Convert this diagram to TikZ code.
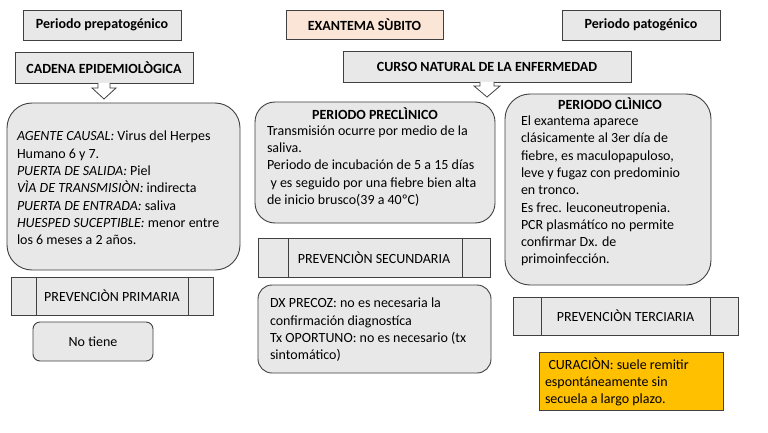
\documentclass[tikz,border=0pt]{standalone}
\usepackage{fontspec}
\setmainfont{Carlito}
\usetikzlibrary{calc}
\definecolor{boxgray}{HTML}{E8E8E8}
\definecolor{edge}{HTML}{404040}
\definecolor{peach}{HTML}{FBE5D6}
\definecolor{gold}{HTML}{FFC000}
\begin{document}
\begin{tikzpicture}[x=1pt,y=-1pt,
  every node/.style={inner sep=0pt,outer sep=0pt},
  txt/.style={font=\fontsize{14}{17.3}\selectfont, align=left, text=black},
  hdr/.style={draw=edge, fill=boxgray, line width=0.9pt, font=\fontsize{14}{17}\selectfont\bfseries},
  rbox/.style={draw=edge, fill=boxgray, line width=0.9pt, rounded corners=#1},
  prev/.style={draw=edge, fill=boxgray, line width=0.9pt, font=\fontsize{14}{17}\selectfont},
  barrow/.style={draw=edge, fill=white, line width=0.8pt, line join=miter}
]
\useasboundingbox (0,0) rectangle (768,433);
\fill[white] (0,0) rectangle (768,433);

% top headers
\node[hdr, minimum width=158pt, minimum height=30pt] (prepat) at (102,25) {Periodo prepatogénico};
\node[hdr, fill=peach, minimum width=157pt, minimum height=29pt] (exant) at (364.5,24.5) {EXANTEMA SÙBITO};
\node[hdr, minimum width=158pt, minimum height=30pt] (pat) at (641,25) {Periodo patogénico};
\node[hdr, minimum width=178pt, minimum height=31pt] (cadena) at (104,67.5) {CADENA EPIDEMIOLÒGICA};
\node[hdr, minimum width=288pt, minimum height=31pt] (curso) at (487,66.5) {CURSO NATURAL DE LA ENFERMEDAD};

% block arrows
\draw[barrow] ($(cadena.south)+(-6,0)$) -- ++(0,5) -- ++(-6,0) -- ($(cadena.south)+(0,16)$) -- ($(cadena.south)+(12,5)$) -- ++(-6,0) -- ($(cadena.south)+(6,0)$);
\draw[barrow] ($(curso.south)+(-7,0)$) -- ++(0,4) -- ++(-6,0) -- ($(curso.south)+(0,15)$) -- ($(curso.south)+(13,4)$) -- ++(-6,0) -- ($(curso.south)+(7,0)$);

% left column
\node[rbox=25pt, minimum width=233pt, minimum height=167pt] (cadbox) at (123.5,186.5) {};
\node[txt, anchor=west] (cadtxt) at (17,188) {\textit{AGENTE CAUSAL:} Virus del Herpes\\
Humano 6 y 7.\\
\textit{PUERTA DE SALIDA:} Piel\\
\textit{VÌA DE TRANSMISIÒN:} indirecta\\
\textit{PUERTA DE ENTRADA:} saliva\\
\textit{HUESPED SUCEPTIBLE:} menor entre\\
los 6 meses a 2 años.};

\node[prev, minimum width=202pt, minimum height=38pt] (prim) at (112,296) {PREVENCIÒN PRIMARIA};
\draw[edge, line width=0.9pt] ($(prim.north west)+(25,0)$) -- ($(prim.south west)+(25,0)$);
\draw[edge, line width=0.9pt] ($(prim.north east)+(-25,0)$) -- ($(prim.south east)+(-25,0)$);
\node[rbox=7pt, txt, minimum width=120pt, minimum height=39pt] (notiene) at (93,341.5) {No tiene};

% middle column
\node[rbox=20pt, minimum width=240pt, minimum height=121pt] (prebox) at (375,162.5) {};
\node[txt, font=\fontsize{14}{17}\selectfont\bfseries] (pretit) at (375,114) {PERIODO PRECLÌNICO};
\node[txt, anchor=west] (pretxt) at (267,166) {Transmisión ocurre por medio de la\\
saliva.\\
Periodo de incubación de 5 a 15 días\\
\hspace{0.25em}y es seguido por una fiebre bien alta\\
de inicio brusco(39 a 40ºC)};

\node[prev, minimum width=232pt, minimum height=39pt] (sec) at (374,257.5) {PREVENCIÒN SECUNDARIA};
\draw[edge, line width=0.9pt] ($(sec.north west)+(30,0)$) -- ($(sec.south west)+(30,0)$);
\draw[edge, line width=0.9pt] ($(sec.north east)+(-28,0)$) -- ($(sec.south east)+(-28,0)$);

\node[rbox=14pt, minimum width=233pt, minimum height=88pt] (dxbox) at (374.5,329) {};
\node[txt, anchor=west] (dxtxt) at (270,330) {DX PRECOZ: no es necesaria la\\
confirmación diagnostíca\\
Tx OPORTUNO: no es necesario (tx\\
sintomático)};

% right column
\node[rbox=25pt, minimum width=206pt, minimum height=191pt] (clibox) at (608,189.5) {};
\node[txt, font=\fontsize{14}{17}\selectfont\bfseries] (clitit) at (610,104) {PERIODO CLÌNICO};
\node[txt, anchor=west] (clitxt) at (521,191) {El exantema aparece\\
clásicamente al 3er día de\\
fiebre, es maculopapuloso,\\
leve y fugaz con predominio\\
en tronco.\\
Es frec. leuconeutropenia.\\
PCR plasmátíco no permite\\
confirmar Dx. de\\
primoinfección.};

\node[prev, minimum width=225pt, minimum height=38pt] (ter) at (625.5,316) {PREVENCIÒN TERCIARIA};
\draw[edge, line width=0.9pt] ($(ter.north west)+(28,0)$) -- ($(ter.south west)+(28,0)$);
\draw[edge, line width=0.9pt] ($(ter.north east)+(-28,0)$) -- ($(ter.south east)+(-28,0)$);

\node[draw=edge, fill=gold, line width=0.9pt, minimum width=184pt, minimum height=58pt] (curbox) at (631,381) {};
\node[txt, anchor=west] (curtxt) at (545,382) {\hspace{0.25em}CURACIÒN: suele remitir\\
espontáneamente sin\\
secuela a largo plazo.};
\end{tikzpicture}
\end{document}
